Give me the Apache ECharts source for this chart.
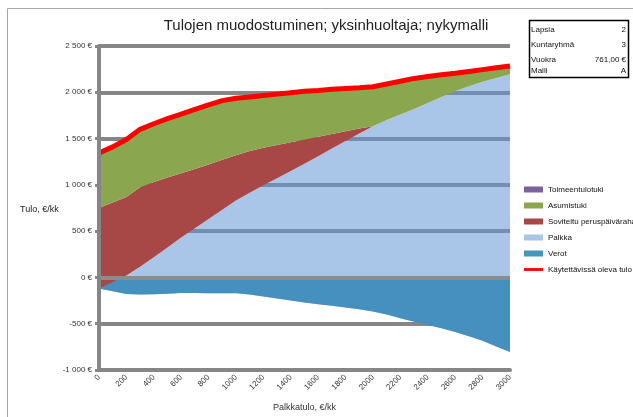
<!DOCTYPE html>
<html><head><meta charset="utf-8">
<script src="https://cdn.jsdelivr.net/npm/echarts@6/dist/echarts.min.js"></script>
<style>html,body{margin:0;padding:0;background:#fff}#c{width:633px;height:417px}</style>
</head><body><div id="c"></div>
<script>
const categories = [0,100,200,300,400,500,600,700,800,900,1000,1100,1200,1300,1400,1500,1600,1700,1800,1900,2000,2100,2200,2300,2400,2500,2600,2700,2800,2900,3000];
const verot = [-120,-150,-180,-185,-182,-177,-168,-168,-170,-170,-170,-185,-205,-228,-250,-272,-290,-307,-325,-345,-368,-400,-440,-480,-515,-550,-590,-635,-685,-745,-805];
const palkka = [0,100,200,300,400,500,600,700,800,900,1000,1100,1200,1300,1400,1500,1600,1700,1800,1900,2000,2100,2200,2300,2400,2500,2600,2700,2800,2900,3000];
const soviteltu = [870,860,850,860,812,757,693,638,590,540,490,450,405,358,310,262,210,157,105,55,0,0,0,0,0,0,0,0,0,0,0];
const asumistuki = [595,600,620,625,630,635,640,645,645,640,615,585,565,550,535,520,500,482,462,440,428,390,360,330,285,240,195,160,130,110,90];
const toimeentulotuki = [0,0,0,0,0,0,0,0,0,0,0,0,0,0,0,0,0,0,0,0,0,0,0,0,0,0,0,0,0,0,0];
const kaytettavissa = categories.map((_, i) => verot[i] + palkka[i] + soviteltu[i] + asumistuki[i] + toimeentulotuki[i]);
const infoRows = [["Lapsia","2"],["Kuntaryhmä","3"],["Vuokra","761,00 €"],["Malli","A"]];

const GRID = '#868686';
const FONT = 'Liberation Sans, Arial, sans-serif';
function fmtEur(v){
  const s = Math.abs(v).toString().replace(/\B(?=(\d{3})+(?!\d))/g, ' ');
  return (v < 0 ? '-' : '') + s + ' €';
}
const chart = echarts.init(document.getElementById('c'), null, {renderer:'canvas'});
const areaBase = (name, data, color, z) => ({
  name, type:'line', stack:'tot', stackStrategy:'all', data, z,
  symbol:'none', showSymbol:false, lineStyle:{width:0},
  areaStyle:{color, opacity:1}, itemStyle:{color}, silent:true
});
const infoGraphics = [];
infoRows.forEach((r, i) => {
  const y = [31, 46, 61, 72][i];
  infoGraphics.push({type:'text', left:531, top:y-5, style:{text:r[0], font:'8px "Liberation Sans", Arial, sans-serif', fill:'#111'}});
  infoGraphics.push({type:'text', right:633-626, top:y-5, style:{text:r[1], font:'8px "Liberation Sans", Arial, sans-serif', fill:'#111', textAlign:'right'}});
});
chart.setOption({
  animation:false,
  backgroundColor:'#fff',
  grid:{left:99, right:123, top:46, bottom:44, containLabel:false},
  xAxis:{type:'category', data:categories, boundaryGap:false,
    axisLine:{onZero:false, lineStyle:{color:GRID, width:4}},
    axisTick:{show:false},
    axisLabel:{interval:1, rotate:45, fontSize:8, color:'#333', margin:6, fontFamily:FONT},
    splitLine:{show:false},
    name:'Palkkatulo, €/kk', nameLocation:'middle', nameGap:33,
    nameTextStyle:{fontSize:9, color:'#333', fontFamily:FONT}
  },
  yAxis:[
    {type:'value', min:-1000, max:2500, interval:500,
      axisLine:{show:false},
      axisTick:{show:true, length:4, lineStyle:{color:GRID, width:3}},
      axisLabel:{formatter:fmtEur, fontSize:8, color:'#333', margin:7, fontFamily:FONT},
      splitLine:{lineStyle:{color:GRID, width:4}}
    },
    {type:'value', position:'left', min:-1000, max:2500, interval:500, z:10,
      axisLine:{show:true, lineStyle:{color:GRID, width:4}},
      axisTick:{show:false}, axisLabel:{show:false}, splitLine:{show:false}
    }
  ],
  legend:{orient:'vertical', left:524, top:184, padding:0, itemWidth:19, itemHeight:6, itemGap:5,
    textStyle:{fontSize:8, color:'#111', lineHeight:11, fontFamily:FONT},
    data:[
      {name:'Toimeentulotuki', icon:'rect'},
      {name:'Asumistuki', icon:'rect'},
      {name:'Soviteltu peruspäiväraha', icon:'rect'},
      {name:'Palkka', icon:'rect', itemStyle:{color:'#a9c5e8'}},
      {name:'Verot', icon:'rect', itemStyle:{color:'#4597bd'}},
      {name:'Käytettävissä oleva tulo', icon:'path://M0,0H20V3H0Z', itemStyle:{color:'#ff0000'}}
    ]
  },
  graphic:[
    {type:'rect', shape:{x:7.5, y:8.5, width:700, height:500}, style:{fill:'none', stroke:'#a6a6a6', lineWidth:1}, silent:true},
    {type:'text', x:326, y:26, style:{text:'Tulojen muodostuminen; yksinhuoltaja; nykymalli', font:'15px "Liberation Sans", Arial, sans-serif', fill:'#222', textAlign:'center', textVerticalAlign:'middle'}},
    {type:'text', x:20, y:210, style:{text:'Tulo, €/kk', font:'9px "Liberation Sans", Arial, sans-serif', fill:'#222', textVerticalAlign:'middle'}},
    {type:'rect', shape:{x:529.5, y:20.5, width:99, height:57}, style:{fill:'#fff', stroke:'#000', lineWidth:1.5}, silent:true}
  ].concat(infoGraphics),
  series:[
    areaBase('Verot', verot, '#4690c0', 3),
    areaBase('Palkka', palkka, 'rgba(99,150,213,0.55)', 1),
    areaBase('Soviteltu peruspäiväraha', soviteltu, '#a84846', 4),
    areaBase('Asumistuki', asumistuki, '#8aa64f', 4),
    areaBase('Toimeentulotuki', toimeentulotuki, '#7d60a0', 4),
    {name:'Käytettävissä oleva tulo', type:'line', data:kaytettavissa, z:6,
      symbol:'none', showSymbol:false, lineStyle:{color:'#ff0000', width:5}, itemStyle:{color:'#ff0000'},
      markLine:{silent:true, symbol:'none', label:{show:false}, z:5,
        lineStyle:{color:'#8c8c8c', width:4, type:'solid'}, data:[{yAxis:0}]}
    }
  ]
});
</script></body></html>
